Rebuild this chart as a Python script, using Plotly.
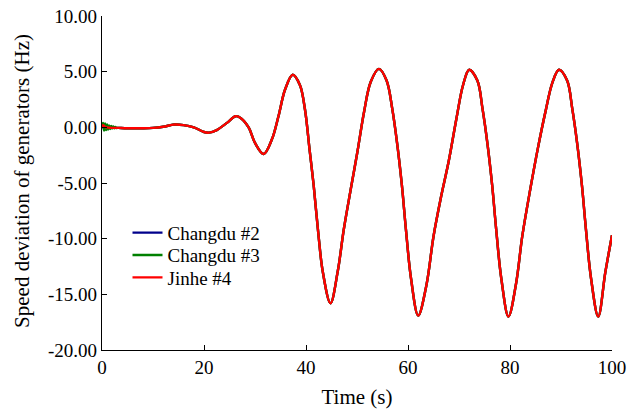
import plotly.graph_objects as go

# Main (common) response: time (s) and speed deviation (Hz)
t_main = [3.2, 5.0, 8.0, 10.0, 12.0, 14.2, 16.0, 18.0, 20.0, 21.0, 22.5, 24.5, 26.2, 27.3,
          28.8, 30.0, 31.7, 33.3, 34.6, 35.9, 37.4, 38.8, 39.8, 40.7, 41.5, 42.4, 43.3,
          44.8, 46.2, 47.4, 48.8, 50.1, 51.4, 52.7, 54.3, 55.8, 56.9, 57.9, 58.8, 59.6,
          60.6, 62.0, 63.6, 65.0, 66.5, 68.0, 69.5, 70.8, 72.0, 73.6, 74.6, 75.6, 76.5,
          77.3, 78.3, 79.7, 81.2, 82.4, 84.0, 85.5, 87.0, 88.3, 89.6, 91.2, 92.2, 93.2,
          94.1, 94.9, 95.9, 97.3, 98.7, 100.0]
v_main = [-0.05, -0.08, -0.08, -0.05, 0.05, 0.25, 0.2, 0.0, -0.42, -0.48, -0.25, 0.4, 1.0, 0.8,
          -0.05, -1.4, -2.4, -1.1, 1.0, 3.4, 4.72, 3.8, 1.6, -2.0, -5.2, -9.45, -13.0,
          -15.8, -13.0, -9.2, -5.5, -2.15, 1.43, 4.1, 5.25, 4.2, 1.7, -1.55, -5.2, -9.2,
          -13.6, -16.9, -14.2, -9.8, -6.2, -3.0, 0.8, 3.8, 5.17, 4.2, 1.7, -1.55, -5.2,
          -9.2, -13.6, -17.0, -14.0, -9.8, -5.5, -1.8, 1.5, 4.0, 5.17, 4.2, 1.7, -1.55,
          -5.2, -9.2, -13.6, -17.0, -13.0, -9.7]

# Early transient (first 3 s) of each generator
t_early = [0.0, 0.2, 0.4, 0.6, 0.8, 1.0, 1.2, 1.4, 1.6, 1.8, 2.0, 2.2, 2.4, 2.6, 2.8, 3.0]
v_early_cd2 = [0.0, 0.25, -0.2, 0.2, -0.15, 0.14, -0.12, 0.1, -0.08, 0.06, -0.05, 0.04,
               -0.04, 0.0, -0.05, -0.05]
v_early_cd3 = [0.0, 0.4, -0.3, 0.35, -0.25, 0.25, -0.2, 0.18, -0.15, 0.12, -0.1, 0.08,
               -0.08, 0.04, -0.06, -0.05]
v_early_jh4 = [0.0, 0.2, 0.12, 0.05, 0.0, 0.0, -0.02, -0.03, -0.04, -0.05, -0.05, -0.05,
               -0.05, -0.05, -0.05, -0.05]

names = ["Changdu #2", "Changdu #3", "Jinhe #4"]
colors = ["#00008B", "#008000", "#FF0000"]
early = [v_early_cd2, v_early_cd3, v_early_jh4]

y_tickvals = [10, 5, 0, -5, -10, -15, -20]
y_ticktext = ["10.00", "5.00", "0.00", "-5.00", "-10.00", "-15.00", "-20.00"]
x_tickvals = [0, 20, 40, 60, 80, 100]

legend_ids = ["legend", "legend2", "legend3"]
legend_y = [0.351, 0.284, 0.217]

fig = go.Figure()
for name, col, ve, lid in zip(names, colors, early, legend_ids):
    fig.add_trace(go.Scatter(
        x=t_early + t_main, y=ve + v_main, mode="lines", name=name, legend=lid,
        line=dict(color=col, width=2.4, shape="spline", smoothing=1.0),
    ))

font_family = "Liberation Serif"
legend_common = dict(x=0.05, xanchor="left", yanchor="middle",
                     bgcolor="rgba(0,0,0,0)", font=dict(size=19, family=font_family),
                     itemwidth=30)

fig.update_layout(
    width=627, height=414,
    margin=dict(l=102, r=15, t=16, b=64),
    paper_bgcolor="white", plot_bgcolor="white",
    font=dict(family=font_family, color="black", size=19),
    showlegend=True,
    legend=dict(y=legend_y[0], **legend_common),
    legend2=dict(y=legend_y[1], **legend_common),
    legend3=dict(y=legend_y[2], **legend_common),
    xaxis=dict(range=[0, 100], tickvals=x_tickvals, showgrid=False, zeroline=False,
               showline=True, linecolor="black", linewidth=1.3, automargin=False,
               ticks="inside", ticklen=5, tickcolor="black", tickwidth=1.3,
               ticklabeloverflow="allow",
               title=dict(text="Time (s)", font=dict(size=21), standoff=12),
               tickfont=dict(size=19)),
    yaxis=dict(range=[-20, 10], tickvals=y_tickvals, ticktext=y_ticktext,
               showgrid=False, zeroline=False, automargin=False,
               showline=True, linecolor="black", linewidth=1.3,
               ticks="inside", ticklen=5, tickcolor="black", tickwidth=1.3,
               tickfont=dict(size=19)),
    annotations=[dict(text="Speed deviation of generators (Hz)", xref="paper", yref="paper",
                      x=-0.157, y=0.506, xanchor="center", yanchor="middle",
                      textangle=-90, showarrow=False,
                      font=dict(size=21, family=font_family, color="black"))],
)

fig.write_html("out.html")
